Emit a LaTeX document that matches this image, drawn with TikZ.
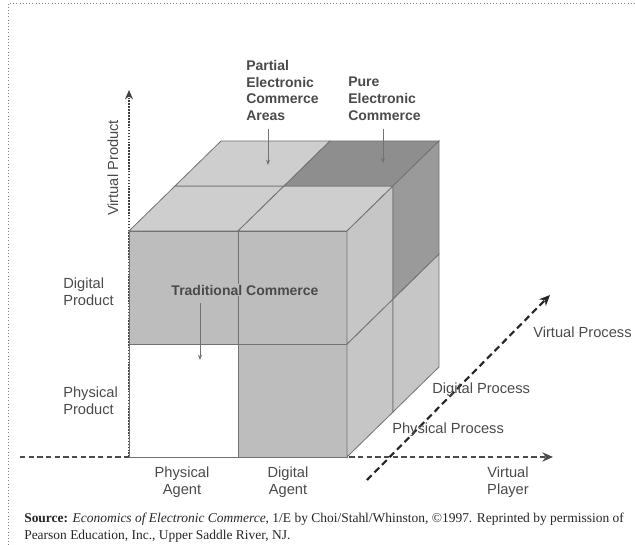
\documentclass[tikz,border=0pt]{standalone}
\usepackage{fontspec}
\setmainfont{Liberation Serif}
\setsansfont{Liberation Sans}
\usetikzlibrary{arrows.meta}
\definecolor{frontgray}{HTML}{BDBDBD}
\definecolor{topgray}{HTML}{CECECE}
\definecolor{sidegray}{HTML}{C6C6C6}
\definecolor{darktop}{HTML}{8E8E8E}
\definecolor{darkside}{HTML}{9A9A9A}
\definecolor{edgegray}{HTML}{727272}
\definecolor{inkgray}{HTML}{4A4A4A}
\tikzset{
  lbl/.style={font=\sffamily\fontsize{11}{12.5}\selectfont, text=inkgray, align=left, inner sep=0pt},
  boldlbl/.style={lbl, font=\sffamily\bfseries\fontsize{10.5}{12.5}\selectfont},
  pointer/.style={-{Stealth[length=4pt,width=3pt]}, edgegray, line width=0.6pt},
  cell/.style={draw=edgegray, line width=0.6pt}
}
\begin{document}
\begin{tikzpicture}[x=0.75pt,y=-0.75pt]
\useasboundingbox (0,0) rectangle (635,545);
\draw[gray, dotted] (8,545) -- (8,3) -- (635,3);

\coordinate (origin) at (129,457);
\coordinate (prodtip) at (129,90);
\coordinate (playstart) at (20,457);
\coordinate (playtip) at (553,457);
\coordinate (procstart) at (367,480);
\coordinate (proctip) at (550,295);

\draw[black!75, line width=1.2pt, dash pattern=on 1.2pt off 1pt, -{Stealth[length=7pt,width=6pt]}] (origin) -- (prodtip);
\draw[black!70, line width=1pt, dash pattern=on 4pt off 2.5pt, -{Stealth[length=8pt,width=7pt]}] (playstart) -- (playtip);
\draw[black!85, line width=1.6pt, dash pattern=on 5pt off 3pt, -{Stealth[length=8pt,width=7pt]}] (procstart) -- (proctip);

\begin{scope}[shift={(129,457)}, x={(81.75pt,0pt)}, y={(0pt,84.75pt)}, z={(34.5pt,33.75pt)}]
\foreach \i/\j/\c in {0/0/white,1/0/frontgray,0/1/frontgray,1/1/frontgray}
\filldraw[cell, fill=\c] (\i,\j,0) -- ++(1,0,0) -- ++(0,1,0) -- ++(-1,0,0) -- cycle;

\foreach \i/\k/\c in {0/0/topgray,1/0/topgray,0/1/topgray,1/1/darktop}
\filldraw[cell, fill=\c] (\i,2,\k) -- ++(1,0,0) -- ++(0,0,1) -- ++(-1,0,0) -- cycle;

\foreach \j/\k/\c in {0/0/sidegray,1/0/sidegray,0/1/sidegray,1/1/darkside}
\filldraw[cell, fill=\c] (2,\j,\k) -- ++(0,1,0) -- ++(0,0,1) -- ++(0,-1,0) -- cycle;
\end{scope}

\node[boldlbl, anchor=north west] (partial) at (246,60) {Partial\\Electronic\\Commerce\\Areas};
\node[boldlbl, anchor=north west] (pure) at (348,77) {Pure\\Electronic\\Commerce};
\node[boldlbl, fill=frontgray, inner sep=1pt] (trad) at (245,290) {Traditional Commerce};

\coordinate (partialtip) at (268,165);
\coordinate (puretip) at (383,163);
\coordinate (tradtip) at (200,360);
\draw[pointer, shorten <=6pt] (partialtip |- partial.south) -- (partialtip);
\draw[pointer, shorten <=6pt] (puretip |- pure.south) -- (puretip);
\draw[pointer, shorten <=5pt] (tradtip |- trad.south) -- (tradtip);

\node[lbl, rotate=90] (vprod) at (113,168) {Virtual Product};
\node[lbl, anchor=west] (dprod) at (63,292) {Digital\\Product};
\node[lbl, anchor=west] (pprod) at (63,401) {Physical\\Product};
\node[lbl, align=center] (pagent) at (182,482) {Physical\\Agent};
\node[lbl, align=center] (dagent) at (288,482) {Digital\\Agent};
\node[lbl, align=center] (vplayer) at (508,482) {Virtual\\Player};
\node[lbl, anchor=west] (vproc) at (533,332) {Virtual Process};
\node[lbl, anchor=west] (dproc) at (432,390) {Digital Process};
\node[lbl, anchor=west] (pproc) at (392,430) {Physical Process};

\node[font=\fontsize{10.1}{12.5}\selectfont, anchor=north west, align=left, inner sep=0pt, text=black!85] (source) at (24,513) {\textbf{Source:} \textit{Economics of Electronic Commerce}, 1/E by Choi/Stahl/Whinston, ©1997. Reprinted by permission of\\Pearson Education, Inc., Upper Saddle River, NJ.};
\end{tikzpicture}
\end{document}
